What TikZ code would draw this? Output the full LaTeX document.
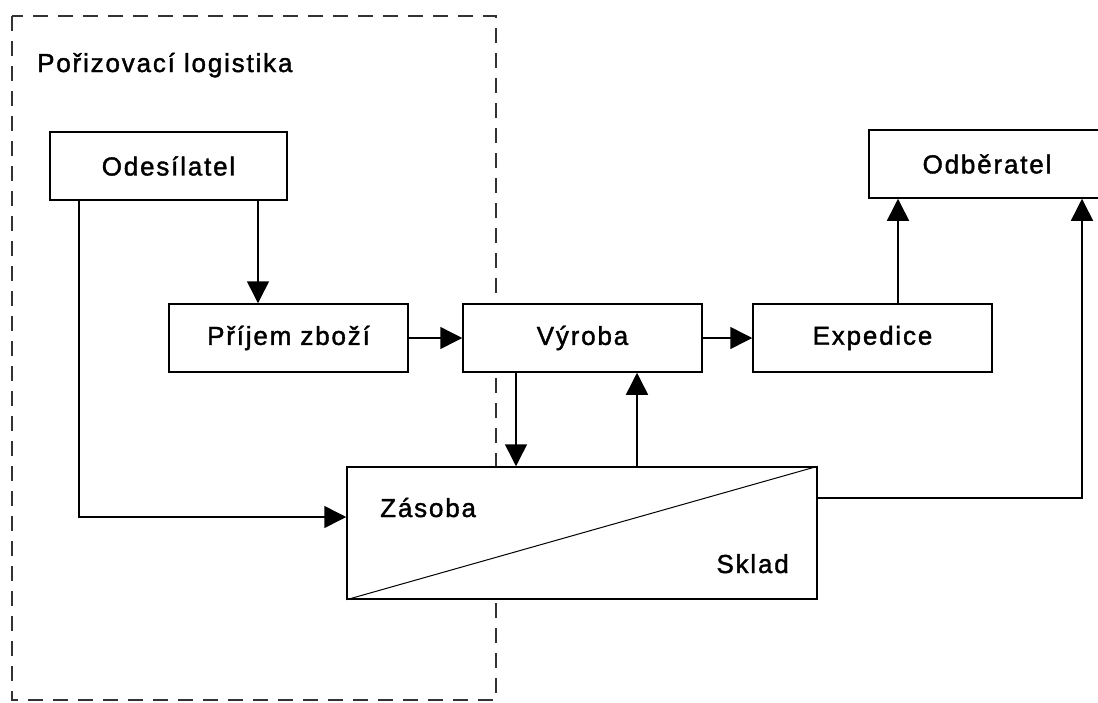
\documentclass[tikz,border=0pt]{standalone}
\usepackage{fontspec}
\setmainfont[LetterSpace=7,FakeBold=1.5]{Liberation Sans}
\usetikzlibrary{arrows.meta}
\begin{document}
\begin{tikzpicture}[x=1pt,y=-1pt,
  box/.style={draw=black,line width=1.5pt,fill=white,rectangle,inner sep=0pt,
    minimum width=#1,minimum height=68pt,font=\fontsize{26pt}{30pt}\selectfont},
  box/.default=238pt,
  arr/.style={draw=black,line width=1.5pt,-{Triangle[length=22pt,width=22pt]}},
  lbl/.style={inner sep=0pt,font=\fontsize{26pt}{30pt}\selectfont},
  area/.style={draw=black!80,line width=1.5pt,dash pattern=on 15pt off 10pt}]
\useasboundingbox (0,0) rectangle (1098,702);
\fill[white] (0,0) rectangle (1098,702);
\draw[area] (12,16) rectangle (496,700);
\node[lbl,anchor=base west] (title) at (37,72) {Pořizovací logistika};
\node[box=237pt] (ode) at (168.5,166) {Odesílatel};
\node[box=239pt] (pri) at (288.5,338) {Příjem zboží};
\node[box=239pt] (vyr) at (582.5,338) {Výroba};
\node[box=239pt] (exp) at (872.5,338) {Expedice};
\node[box=236pt] (odb) at (987,164) {Odběratel};
\node[draw=black,line width=1.5pt,fill=white,rectangle,inner sep=0pt,
  minimum width=470pt,minimum height=132pt] (zas) at (582,533) {};
\draw[line width=1pt] (zas.south west) -- (zas.north east);
\node[lbl,anchor=base west] (zl) at (380,517) {Zásoba};
\node[lbl,anchor=base east] (sl) at (789,573) {Sklad};
\draw[arr] ([xshift=89.5pt]ode.south) -- ([xshift=-30.5pt]pri.north);
\draw[arr] ([xshift=-89.5pt]ode.south) |- ([yshift=16pt]zas.west);
\draw[arr] (pri.east) -- (vyr.west);
\draw[arr] (vyr.east) -- (exp.west);
\draw[arr] ([xshift=25.5pt]exp.north) -- ([xshift=-89pt]odb.south);
\draw[arr] ([xshift=-66.5pt]vyr.south) -- ([xshift=-66pt]zas.north);
\draw[arr] ([xshift=55pt]zas.north) -- ([xshift=54.5pt]vyr.south);
\draw[arr] ([yshift=35pt]zas.east) -| ([xshift=95pt]odb.south);
\end{tikzpicture}
\end{document}
